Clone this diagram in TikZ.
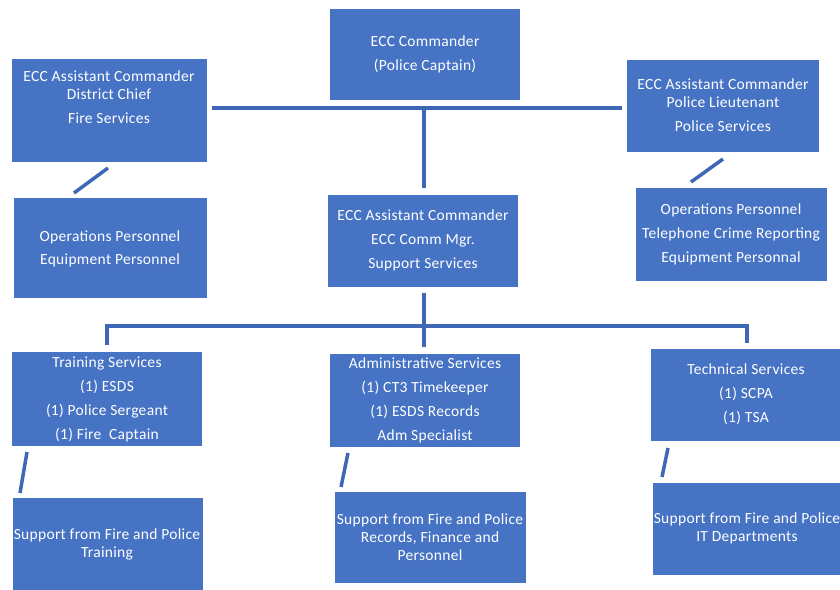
\documentclass[tikz,border=0pt]{standalone}
\usepackage{fontspec}
\setmainfont{Carlito}[LetterSpace=2]
\definecolor{boxblue}{RGB}{70,115,196}
\definecolor{lineblue}{RGB}{62,104,182}
\begin{document}
\begin{tikzpicture}[x=1pt,y=-1pt,
  box/.style={draw=none,fill=boxblue,anchor=north west,inner sep=0pt,outer sep=0pt},
  txt/.style={text=white,align=center,inner sep=0pt,font=\fontsize{15.5}{18}\selectfont},
  conn/.style={draw=lineblue,line width=4pt},
  slash/.style={draw=lineblue,line width=3.5pt}]
\useasboundingbox (0,0) rectangle (840,589);
\begin{scope}
\clip (0,0) rectangle (840,589);
% boxes
\node[box,minimum width=190,minimum height=91] (cmd) at (330,9) {};
\node[box,minimum width=195,minimum height=103] (la) at (12,59) {};
\node[box,minimum width=192,minimum height=92] (ra) at (627,60) {};
\node[box,minimum width=190,minimum height=92] (mid) at (328,195) {};
\node[box,minimum width=193,minimum height=100] (lo) at (14,198) {};
\node[box,minimum width=191,minimum height=93] (ro) at (636,188) {};
\node[box,minimum width=190,minimum height=94] (trn) at (12,352) {};
\node[box,minimum width=190,minimum height=93] (adm) at (330,354) {};
\node[box,minimum width=192,minimum height=92] (tec) at (651,349) {};
\node[box,minimum width=190,minimum height=94] (bl) at (13,498) {};
\node[box,minimum width=191,minimum height=91] (bm) at (335,492) {};
\node[box,minimum width=192,minimum height=92] (br) at (653,483) {};
% texts
\node[txt] (tcmd) at (425,54) {ECC Commander\\[6pt](Police Captain)};
\node[txt] (tla) at (109,97) {ECC Assistant Commander\\District Chief\\[6pt]Fire Services};
\node[txt] (tra) at (723,105) {ECC Assistant Commander\\Police Lieutenant\\[6pt]Police Services};
\node[txt] (tmid) at (423,240) {ECC Assistant Commander\\[6pt]ECC Comm Mgr.\\[6pt]Support Services};
\node[txt] (tlo) at (110,248.5) {Operations Personnel\\[5pt]Equipment Personnel};
\node[txt] (tro) at (731,234) {Operations Personnel\\[6pt]Telephone Crime Reporting\\[6pt]Equipment Personnal};
\node[txt] (ttrn) at (107,399) {Training Services\\[6pt](1) ESDS\\[6pt](1) Police Sergeant\\[6pt](1) Fire\ \ Captain};
\node[txt] (tadm) at (425,400) {Administrative Services\\[6pt](1) CT3 Timekeeper\\[6pt](1) ESDS Records\\[6pt]Adm Specialist};
\node[txt] (ttec) at (746,394.5) {Technical Services\\[6pt](1) SCPA\\[6pt](1) TSA};
\node[txt] (tbl) at (107,544) {Support from Fire and Police\\Training};
\node[txt] (tbm) at (430,537) {Support from Fire and Police\\Records, Finance and\\Personnel};
\node[txt] (tbr) at (747,528.5) {Support from Fire and Police\\IT Departments};
% connectors
\coordinate (j1) at (424,108);
\coordinate (j2) at (424,326);
\draw[conn] ([xshift=5pt]la.east |- j1) -- ([xshift=-5pt]ra.west |- j1);
\draw[conn] (j1) -- ([yshift=7pt]mid.north -| j1);
\draw[conn] ([yshift=-6pt]mid.south -| j2) -- (j2) -- ([yshift=7pt]adm.north -| j2);
\draw[conn] ([yshift=7pt]trn.north) |- (j2) -| ([yshift=6pt]tec.north);
% slashes
\coordinate (s1a) at (74,193); \coordinate (s1b) at (108,168);
\coordinate (s2a) at (691,182); \coordinate (s2b) at (723,159);
\coordinate (s3a) at (27,452); \coordinate (s3b) at (20,493);
\coordinate (s4a) at (348,453); \coordinate (s4b) at (341,487);
\coordinate (s5a) at (668,448); \coordinate (s5b) at (662,477);
\draw[slash] (s1a) -- (s1b);
\draw[slash] (s2a) -- (s2b);
\draw[slash] (s3a) -- (s3b);
\draw[slash] (s4a) -- (s4b);
\draw[slash] (s5a) -- (s5b);
\end{scope}
\end{tikzpicture}
\end{document}
